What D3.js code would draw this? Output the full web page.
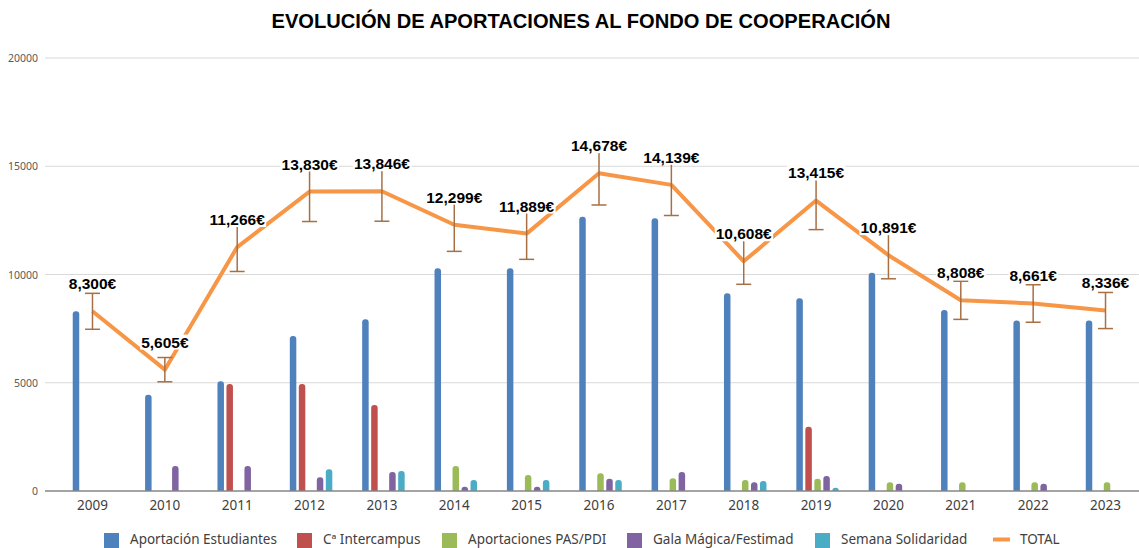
<!DOCTYPE html>
<html>
<head>
<meta charset="utf-8">
<script src="https://cdn.jsdelivr.net/npm/d3@7"></script>
<style>
  html, body { margin: 0; padding: 0; background: #fff; }
  svg { display: block; }
</style>
</head>
<body>
<svg id="chart" width="1139" height="548"></svg>
<script>
const years = ["2009","2010","2011","2012","2013","2014","2015","2016","2017","2018","2019","2020","2021","2022","2023"];
const estudiantes = [8300, 4440, 5070, 7160, 7930, 10290, 10290, 12670, 12600, 9130, 8900, 10080, 8360, 7880, 7880];
const intercampus = [0, 0, 4940, 4940, 3970, 0, 0, 0, 0, 0, 2970, 0, 0, 0, 0];
const pasPdi = [0, 0, 0, 0, 0, 1150, 740, 820, 590, 510, 570, 400, 400, 400, 400];
const gala = [0, 1160, 1160, 630, 880, 200, 200, 570, 880, 400, 690, 340, 0, 340, 0];
const semana = [0, 0, 0, 1000, 920, 510, 510, 510, 0, 460, 150, 0, 0, 0, 0];
const totals = [8300, 5605, 11266, 13830, 13846, 12299, 11889, 14678, 14139, 10608, 13415, 10891, 8808, 8661, 8336];
const yTicks = [0, 5000, 10000, 15000, 20000];
const seriesNames = ["Aportación Estudiantes", "Cª Intercampus", "Aportaciones PAS/PDI", "Gala Mágica/Festimad", "Semana Solidaridad"];
const totalName = "TOTAL";
const title = "EVOLUCIÓN DE APORTACIONES AL FONDO DE COOPERACIÓN";

const seriesValues = [estudiantes, intercampus, pasPdi, gala, semana];
const colors = ["#4f81bd", "#c0504d", "#9bbb59", "#8064a2", "#4bacc6"];
const lineColor = "#f79646";
const errColor = "#a86f44";

const svg = d3.select("#chart");
const W = 1139, H = 548;

const x0 = d3.scaleBand().domain(years).range([56.3, 56.3 + 15 * 72.36]);
const x1 = d3.scaleBand().domain(seriesNames).range([-21, 24]);
const y = d3.scaleLinear().domain([0, 20000]).range([491, 58]);
const cx = d => x0(d) + x0.bandwidth() / 2;

// title
const t = svg.append("text")
  .attr("x", 581).attr("y", 28)
  .attr("text-anchor", "middle")
  .attr("font-family", "'Liberation Sans', Arial, sans-serif")
  .attr("font-weight", "bold")
  .attr("font-size", 18)
  .attr("fill", "#000")
  .text(title);
const tw = t.node().getComputedTextLength();
t.attr("font-size", 18 * 619 / tw);

// y axis labels + gridlines
const yAxis = d3.axisLeft(y).tickValues(yTicks).tickFormat(d3.format("d")).tickSize(0).tickPadding(0);
const ga = svg.append("g").attr("transform", "translate(38,0)").call(yAxis);
ga.select(".domain").remove();
ga.selectAll("text").attr("font-family", "'Noto Sans', sans-serif").attr("font-size", 10.5).attr("fill", "#595959").attr("dy", "0.35em");

svg.append("g").selectAll("line").data(yTicks.filter(d => d > 0)).join("line")
  .attr("x1", 45).attr("x2", W).attr("y1", d => y(d)).attr("y2", d => y(d))
  .attr("stroke", "#d9d9d9").attr("stroke-width", 1);

// bars
const bw = 6.5, r = 3;
function barPath(xc, top, bottom) {
  const h = bottom - top;
  const rr = Math.min(r, h, bw / 2);
  const xl = xc - bw / 2, xr = xc + bw / 2;
  return `M${xl},${bottom}L${xl},${top + rr}Q${xl},${top} ${xl + rr},${top}L${xr - rr},${top}Q${xr},${top} ${xr},${top + rr}L${xr},${bottom}Z`;
}
seriesValues.forEach((vals, si) => {
  svg.append("g").selectAll("path").data(years.map((yr, i) => ({ yr, v: vals[i] })).filter(d => d.v > 0)).join("path")
    .attr("d", d => barPath(cx(d.yr) + x1(seriesNames[si]) + x1.bandwidth() / 2, y(d.v), y(0)))
    .attr("fill", colors[si]);
});

// x axis
const xAxis = d3.axisBottom(x0).tickSize(0).tickPadding(9);
const gx = svg.append("g").attr("transform", `translate(0,${y(0)})`).call(xAxis);
gx.select(".domain").remove();
gx.selectAll("text").attr("font-family", "'Noto Sans', sans-serif").attr("font-size", 13.5).attr("fill", "#404040");
svg.append("line").attr("x1", 45).attr("x2", W).attr("y1", y(0)).attr("y2", y(0))
  .attr("stroke", "#868686").attr("stroke-width", 1.5);

// total line
const line = d3.line().x((d, i) => cx(years[i])).y(d => y(d));
svg.append("path").datum(totals).attr("d", line)
  .attr("fill", "none").attr("stroke", lineColor).attr("stroke-width", 4).attr("stroke-linejoin", "round");

// error bars (10%)
const eg = svg.append("g").attr("stroke", errColor).attr("stroke-width", 1.5);
totals.forEach((v, i) => {
  const xc = cx(years[i]);
  const hi = y(v * 1.1), lo = y(v * 0.9);
  eg.append("line").attr("x1", xc).attr("x2", xc).attr("y1", hi).attr("y2", lo);
  eg.append("line").attr("x1", xc - 7.5).attr("x2", xc + 7.5).attr("y1", hi).attr("y2", hi);
  eg.append("line").attr("x1", xc - 7.5).attr("x2", xc + 7.5).attr("y1", lo).attr("y2", lo);
});

// data labels
const fmt = d3.format(",");
const lg = svg.append("g");
totals.forEach((v, i) => {
  const xc = cx(years[i]);
  const g = lg.append("g");
  const txt = g.append("text").attr("x", xc).attr("y", y(v) - 27.5)
    .attr("dy", "0.35em")
    .attr("text-anchor", "middle")
    .attr("font-family", "'Liberation Sans', Arial, sans-serif")
    .attr("font-weight", "bold").attr("font-size", 15.5).attr("fill", "#000")
    .text(fmt(v) + "€");
  const bb = txt.node().getBBox();
  g.insert("rect", "text").attr("x", bb.x - 1).attr("y", bb.y + 1).attr("width", bb.width + 2).attr("height", bb.height - 2).attr("fill", "#fff");
});

// legend
const legX = [104, 297, 442, 627, 815];
const leg = svg.append("g");
const legFont = "'Noto Sans', sans-serif";
let legSize = 13.5;
const probe = leg.append("text").attr("font-family", legFont).attr("font-size", legSize).text(seriesNames[0]);
legSize = legSize * 147 / probe.node().getComputedTextLength();
probe.remove();
const legY = 539.5;
seriesNames.forEach((n, i) => {
  leg.append("rect").attr("x", legX[i]).attr("y", legY - 6.5).attr("width", 15).attr("height", 15).attr("fill", colors[i]);
  leg.append("text").attr("x", legX[i] + 26).attr("y", legY).attr("dy", "0.35em")
    .attr("font-family", legFont).attr("font-size", legSize).attr("fill", "#404040").text(n);
});
leg.append("line").attr("x1", 993).attr("x2", 1010).attr("y1", legY).attr("y2", legY).attr("stroke", lineColor).attr("stroke-width", 4);
leg.append("text").attr("x", 1020).attr("y", legY).attr("dy", "0.35em")
  .attr("font-family", legFont).attr("font-size", legSize).attr("fill", "#404040").text(totalName);
</script>
</body>
</html>
